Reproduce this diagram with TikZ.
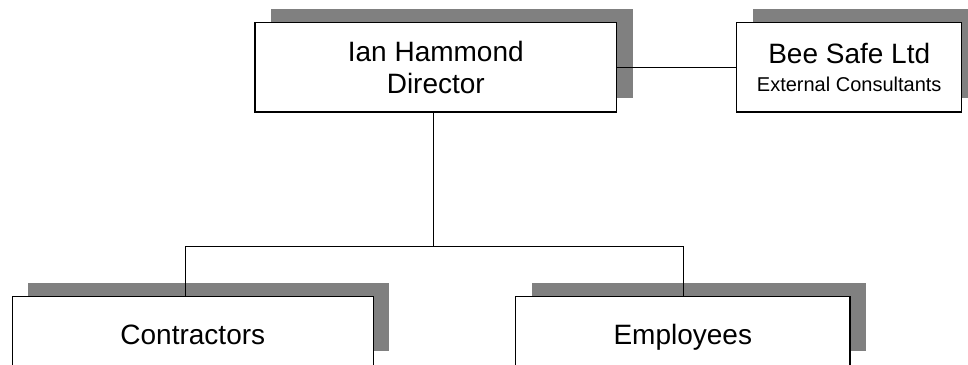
\documentclass[tikz,border=0pt]{standalone}
\usepackage{fontspec}
\setmainfont{Liberation Sans}
\usetikzlibrary{shadows}

\begin{document}
\begin{tikzpicture}[x=1pt,y=-1pt,font=\fontsize{28}{32}\selectfont,
 box/.style={draw=black,line width=1.4pt,fill=white,align=center,inner sep=0pt,
  general shadow={fill=black!50,shadow xshift=16pt,shadow yshift=14pt}},
 low/.style={text height=33pt,text depth=6pt},
 ln/.style={line width=1.4pt,draw=black}]
\useasboundingbox (0,0) rectangle (968,364);
\node[box,minimum width=361.7pt,minimum height=89.3pt] (ian) at (435.8,67.3)
 {Ian Hammond\\Director};
\node[box,minimum width=225pt,minimum height=89.3pt] (bee) at (849.2,67.3)
 {Bee Safe Ltd\\[-4pt]{\fontsize{20}{24}\selectfont External Consultants}};
\node[box,low,minimum width=361pt,minimum height=68.5pt] (cont) at (192.8,331)
 {Contractors};
\node[box,low,minimum width=334.3pt,minimum height=68.5pt] (emp) at (682.8,331)
 {Employees};
\coordinate (fork) at (433.3,246.7);
\coordinate (forkL) at (185.7,246.7);
\coordinate (forkR) at (683.3,246.7);
\draw[ln] (ian.east) -- (bee.west);
\draw[ln] (ian.south -| fork) -- (fork);
\draw[ln] (forkL |- cont.north) |- (forkR) -- (forkR |- emp.north);
\end{tikzpicture}
\end{document}
